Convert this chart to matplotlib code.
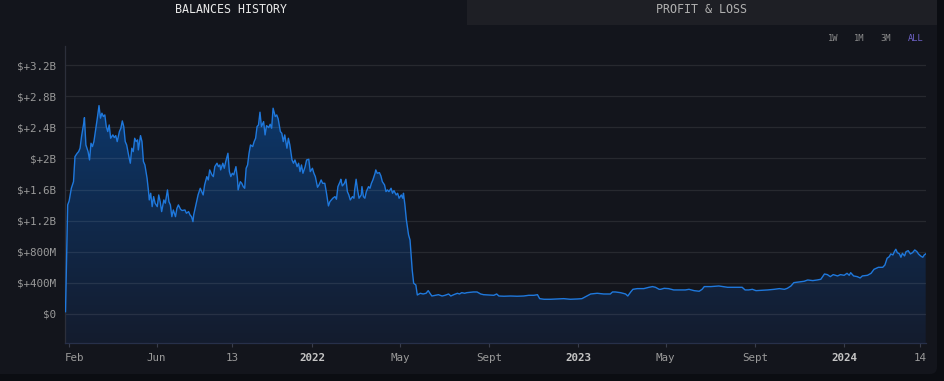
import numpy as np
import pandas as pd
import matplotlib
matplotlib.use('Agg')
import matplotlib.pyplot as plt
import matplotlib.dates as mdates
from matplotlib.colors import LinearSegmentedColormap
from matplotlib.patches import PathPatch, Rectangle, FancyBboxPatch
from matplotlib.transforms import IdentityTransform, ScaledTranslation

# ---------------- data ----------------
base_date = '2022-01-01'
day_offsets = [
    -339, -336, -334, -331, -328, -326, -323, -321, -319, -317,
    -314, -313, -311, -308, -306, -304, -302, -300, -297, -295,
    -293, -291, -289, -287, -285, -283, -281, -279, -277, -274,
    -272, -270, -268, -265, -263, -261, -259, -257, -255, -252,
    -250, -248, -246, -244, -242, -240, -239, -236, -234, -232,
    -230, -227, -225, -224, -222, -220, -218, -216, -213, -211,
    -209, -207, -204, -202, -199, -197, -195, -193, -191, -188,
    -186, -184, -181, -179, -175, -173, -170, -168, -166, -164,
    -163, -160, -157, -154, -152, -150, -148, -145, -143, -141,
    -138, -136, -134, -131, -129, -127, -126, -123, -121, -119,
    -116, -114, -112, -110, -108, -105, -103, -102, -99, -97,
    -95, -93, -91, -89, -87, -85, -82, -80, -78, -76,
    -74, -72, -70, -67, -65, -63, -60, -58, -56, -54,
    -51, -49, -47, -44, -42, -40, -38, -35, -33, -31,
    -28, -26, -24, -21, -19, -17, -15, -13, -10, -8,
    -5, -3, 0, 2, 4, 7, 9, 12, 14, 17,
    19, 22, 24, 26, 28, 31, 33, 35, 38, 39,
    41, 44, 46, 48, 50, 52, 55, 57, 58, 60,
    62, 64, 67, 68, 70, 72, 74, 77, 79, 81,
    83, 86, 87, 89, 92, 94, 96, 99, 101, 103,
    105, 108, 110, 112, 115, 117, 119, 122, 124, 125,
    127, 129, 132, 134, 135, 137, 139, 142, 144, 148,
    152, 156, 159, 162, 164, 169, 173, 178, 182, 187,
    190, 194, 199, 202, 205, 209, 212, 217, 221, 226,
    231, 235, 242, 249, 253, 256, 263, 272, 281, 290,
    297, 304, 309, 312, 318, 327, 336, 345, 354, 364,
    370, 375, 382, 391, 400, 409, 412, 416, 423, 430,
    433, 437, 440, 446, 455, 462, 467, 471, 476, 478,
    483, 489, 496, 506, 512, 517, 524, 531, 535, 538,
    547, 558, 570, 581, 590, 594, 599, 604, 609, 616,
    625, 634, 641, 648, 652, 657, 661, 668, 675, 680,
    687, 693, 698, 703, 707, 711, 715, 721, 725, 730,
    734, 737, 739, 743, 748, 752, 755, 762, 767, 771,
    777, 783, 786, 789, 792, 794, 797, 799, 801, 803,
    806, 808, 810, 813, 815, 818, 821, 824, 827, 830,
    832, 835, 838, 840, 842,
]
balance_musd = [
    30, 1402, 1453, 1616, 1701, 2023, 2066, 2087, 2131, 2280,
    2452, 2524, 2173, 2087, 1980, 2195, 2152, 2216, 2409, 2538,
    2679, 2517, 2581, 2538, 2559, 2409, 2345, 2430, 2259, 2302,
    2268, 2293, 2216, 2345, 2388, 2482, 2409, 2216, 2173, 2023,
    1938, 2131, 2087, 2259, 2216, 2238, 2109, 2293, 2216, 1959,
    1916, 1745, 1573, 1466, 1552, 1380, 1509, 1424, 1380, 1530,
    1444, 1316, 1466, 1424, 1595, 1444, 1402, 1251, 1337, 1251,
    1359, 1402, 1345, 1330, 1337, 1295, 1316, 1273, 1251, 1187,
    1273, 1402, 1530, 1616, 1573, 1530, 1659, 1766, 1723, 1852,
    1788, 1766, 1894, 1938, 1894, 1916, 1852, 1938, 1873, 1959,
    2066, 1830, 1766, 1809, 1788, 1894, 1745, 1595, 1701, 1680,
    1637, 1616, 1873, 1916, 2066, 2173, 2152, 2216, 2259, 2409,
    2430, 2594, 2409, 2473, 2302, 2421, 2396, 2439, 2388, 2645,
    2538, 2559, 2508, 2345, 2323, 2216, 2302, 2131, 2259, 2173,
    1980, 1938, 1980, 1894, 1938, 1830, 1916, 1809, 1894, 1980,
    1989, 1830, 1873, 1809, 1766, 1629, 1659, 1723, 1680, 1680,
    1573, 1389, 1444, 1466, 1488, 1509, 1475, 1637, 1701, 1732,
    1646, 1680, 1732, 1573, 1530, 1466, 1509, 1488, 1595, 1732,
    1595, 1488, 1530, 1637, 1509, 1488, 1573, 1637, 1616, 1680,
    1723, 1809, 1852, 1809, 1817, 1775, 1701, 1659, 1573, 1595,
    1573, 1616, 1552, 1586, 1530, 1552, 1488, 1530, 1488, 1552,
    1402, 1209, 1016, 952, 823, 566, 395, 373, 244, 266,
    257, 266, 300, 257, 231, 240, 248, 231, 240, 257,
    231, 248, 266, 257, 274, 266, 274, 279, 283, 283,
    257, 248, 244, 240, 257, 231, 228, 231, 228, 231,
    240, 240, 248, 197, 189, 189, 193, 197, 189, 193,
    197, 222, 257, 266, 257, 257, 283, 283, 274, 257,
    231, 283, 317, 326, 326, 343, 352, 343, 317, 317,
    330, 326, 309, 309, 309, 317, 300, 292, 317, 352,
    352, 360, 343, 343, 343, 309, 309, 317, 300, 304,
    309, 317, 326, 317, 330, 360, 403, 412, 420, 437,
    429, 437, 446, 514, 506, 480, 506, 489, 506, 497,
    523, 497, 531, 489, 480, 463, 489, 497, 523, 574,
    600, 600, 630, 716, 737, 772, 759, 801, 832, 789,
    772, 729, 780, 746, 801, 814, 772, 789, 823, 801,
    772, 746, 729, 759, 772,
]
assert len(day_offsets) == len(balance_musd)

ytick_values = [0, 400, 800, 1200, 1600, 2000, 2400, 2800, 3200]
ytick_labels = ['$0', '$+400M', '$+800M', '$+1.2B', '$+1.6B', '$+2B',
                '$+2.4B', '$+2.8B', '$+3.2B']
xtick_dates = ['2021-02-01', '2021-06-01', '2021-09-13', '2022-01-01',
               '2022-05-01', '2022-09-01', '2023-01-01', '2023-05-01',
               '2023-09-01', '2024-01-01', '2024-04-14']
xtick_labels = ['Feb', 'Jun', '13', '2022', 'May', 'Sept', '2023', 'May',
                'Sept', '2024', '14']
tab_labels = ['BALANCES HISTORY', 'PROFIT & LOSS']
range_labels = ['1W', '1M', '3M', 'ALL']

# ---------------- figure ----------------
W, H = 945, 381
FONT = 'DejaVu Sans Mono'
plt.rcParams['font.family'] = [FONT, 'DejaVu Sans']

fig = plt.figure(figsize=(W / 100, H / 100), dpi=100)
fig.patch.set_facecolor('#0b0d12')

# main panel (pixel coords, origin bottom-left)
panel = FancyBboxPatch((-20, 381 - 374), 957, 420,
                       boxstyle='round,pad=0,rounding_size=7',
                       transform=IdentityTransform(), facecolor='#13151c',
                       edgecolor='none', zorder=-10)
fig.patches.append(panel)
# inactive tab background
tab_bg = Rectangle((467, 381 - 25), 470, 25, transform=IdentityTransform(),
                   facecolor='#1e1f25', edgecolor='none', zorder=-9)
fig.patches.append(tab_bg)

fig.text(231 / W, 1 - 9.5 / H, tab_labels[0], color='#e8e8e8', fontsize=8.4,
         ha='center', va='center', family=FONT)
fig.text(702 / W, 1 - 9.5 / H, tab_labels[1], color='#b0b0b0', fontsize=8.4,
         ha='center', va='center', family=FONT)

range_x = [833, 859, 886, 916]
range_colors = ['#8c8c8c', '#8c8c8c', '#8c8c8c', '#6f63c9']
for lab, xp, c in zip(range_labels, range_x, range_colors):
    fig.text(xp / W, 1 - 38.5 / H, lab, color=c, fontsize=6.3,
             ha='center', va='center', family=FONT)

# axes
left_px, right_px, top_px, bot_px = 65.5, 925.7, 46, 343.3
ax = fig.add_axes([left_px / W, (H - bot_px) / H,
                   (right_px - left_px) / W, (bot_px - top_px) / H])
ax.set_facecolor('none')
ax.set_zorder(1)

dates = pd.Timestamp(base_date) + pd.to_timedelta(day_offsets, unit='D')
xnum = mdates.date2num(dates.to_pydatetime())
y = np.asarray(balance_musd, dtype=float)

ymin, ymax = -377, 3445
xmin, xmax = xnum[0], xnum[-1]

# gradient fill under the curve
poly = ax.fill_between(xnum, y, ymin, facecolor='none', edgecolor='none')
clip = PathPatch(poly.get_paths()[0], transform=ax.transData,
                 facecolor='none', edgecolor='none')
ax.add_patch(clip)
cmap = LinearSegmentedColormap.from_list('g', ['#141c2e', '#0f2c52', '#0b3f7a'])
grad = np.linspace(1, 0, 300).reshape(-1, 1)
im = ax.imshow(grad, extent=[xmin, xmax, ymin, ymax], aspect='auto',
               cmap=cmap, origin='upper', zorder=1, interpolation='bicubic')
im.set_clip_path(clip)

# grid lines
for v in ytick_values:
    ax.axhline(v, color='#ffffff', alpha=0.085, lw=0.9, zorder=2)

ax.plot(xnum, y, color='#1f78dc', lw=1.0, zorder=3, solid_joinstyle='round')

ax.set_xlim(xmin, xmax)
ax.set_ylim(ymin, ymax)

ax.set_yticks(ytick_values)
ax.set_yticklabels(ytick_labels)
ax.tick_params(axis='y', length=0, pad=6.5, labelsize=7.8, labelcolor='#9a9a9a')

xt = mdates.date2num(pd.to_datetime(xtick_dates).to_pydatetime())
ax.set_xticks(xt)
ax.set_xticklabels(xtick_labels)
ax.tick_params(axis='x', length=3, width=0.8, color='#3a3e4c', pad=4,
               labelsize=7.8, labelcolor='#9a9a9a')
xlabels = ax.get_xticklabels()
for lab in xlabels:
    if lab.get_text().isdigit() and len(lab.get_text()) == 4:
        lab.set_fontweight('bold')
        lab.set_color('#c4c4c4')
# first label is kept inside the plot's left edge
xlabels[0].set_horizontalalignment('left')
xlabels[0].set_transform(xlabels[0].get_transform() +
                         ScaledTranslation(-0.04, 0, fig.dpi_scale_trans))

for s in ['top', 'right']:
    ax.spines[s].set_visible(False)
ax.spines['left'].set_color('#2c2f3b')
ax.spines['left'].set_linewidth(0.9)
ax.spines['bottom'].set_color('#27304a')
ax.spines['bottom'].set_linewidth(0.9)

fig.savefig('out.png', dpi=100, facecolor=fig.get_facecolor())
